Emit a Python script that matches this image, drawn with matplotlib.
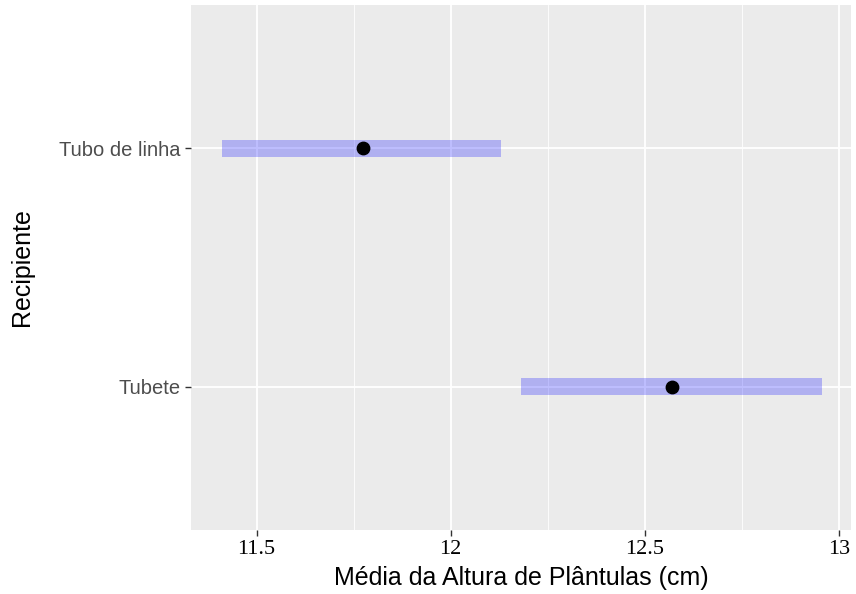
import matplotlib
matplotlib.use("Agg")
import matplotlib.pyplot as plt
from matplotlib.ticker import MultipleLocator

# data
recipientes = ["Tubete", "Tubo de linha"]
medias = [12.57, 11.775]
lim_inf = [12.18, 11.41]
lim_sup = [12.955, 12.13]
x_ticks = [11.5, 12.0, 12.5, 13.0]
x_tick_labels = ["11.5", "12", "12.5", "13"]

fig = plt.figure(figsize=(8.56, 5.94), dpi=100)
ax = fig.add_axes([0.2231, 0.1077, 0.7711, 0.8839])
ax.set_facecolor("#EBEBEB")

# grid, ggplot style
ax.set_axisbelow(True)
ax.xaxis.set_minor_locator(MultipleLocator(0.25))
ax.grid(which="major", color="white", linewidth=1.3)
ax.grid(which="minor", axis="x", color="white", linewidth=0.6)

ypos = list(range(1, len(recipientes) + 1))

# intervals as thick translucent bars
for y, lo, hi in zip(ypos, lim_inf, lim_sup):
    ax.barh(y, hi - lo, left=lo, height=0.072, color="blue", alpha=0.25,
            linewidth=0)

ax.scatter(medias, ypos, color="black", s=80, zorder=3)

ax.set_xlim(11.331, 13.031)
ax.set_ylim(0.4, 2.6)

ax.set_xticks(x_ticks)
ax.set_xticklabels(x_tick_labels, family="Liberation Serif", fontsize=16,
                   color="black")
ax.set_yticks(ypos)
ax.set_yticklabels(recipientes, family="Liberation Sans", fontsize=14.5,
                   color="#4D4D4D")
ax.tick_params(which="major", length=4, width=1, color="#333333")
ax.tick_params(which="minor", length=0)

for s in ax.spines.values():
    s.set_visible(False)

ax.set_xlabel("Média da Altura de Plântulas (cm)", family="Liberation Sans",
              fontsize=18)
ax.set_ylabel("Recipiente", family="Liberation Sans", fontsize=18)
ax.xaxis.set_label_coords(0.5, -0.0914)
ax.xaxis.label.set_va("center")
ax.yaxis.set_label_coords(-0.256, 0.5)
ax.yaxis.label.set_va("center")

fig.savefig("out.png", dpi=100, facecolor="white")
